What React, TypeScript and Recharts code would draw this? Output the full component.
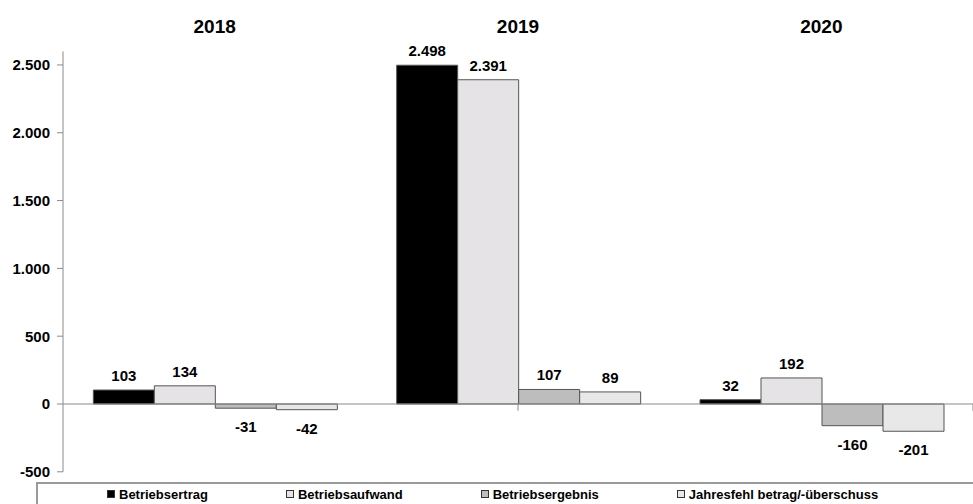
import React from 'react';
import { BarChart, Bar, XAxis, YAxis, ReferenceLine, LabelList } from 'recharts';

const categories = ['2018', '2019', '2020'];
const betriebsertrag = [103, 2498, 32];
const betriebsaufwand = [134, 2391, 192];
const betriebsergebnis = [-31, 107, -160];
const jahresergebnis = [-42, 89, -201];
const yTicks = [-500, 0, 500, 1000, 1500, 2000, 2500];
const categoryBoundaries = [1, 2, 3];

const seriesNames = ['Betriebsertrag', 'Betriebsaufwand', 'Betriebsergebnis', 'Jahresfehl betrag/-überschuss'];
const seriesColors = ['#000000', '#e6e3e6', '#bdbdbd', '#e8e8e8'];
const seriesKeys = ['ertrag', 'aufwand', 'ergebnis', 'jahres'];

const data = categories.map((year, i) => ({
  year,
  ertrag: betriebsertrag[i],
  aufwand: betriebsaufwand[i],
  ergebnis: betriebsergebnis[i],
  jahres: jahresergebnis[i],
}));

const FONT = "'Liberation Sans', Arial, sans-serif";

const fmt = (v: number) => {
  const s = String(Math.abs(v)).replace(/\B(?=(\d{3})+(?!\d))/g, '.');
  return (v < 0 ? '-' : '') + s;
};

const renderLabel = (props: any) => {
  const { x, y, width, height, value } = props;
  const v = Number(value);
  const top = Math.min(y, y + height);
  const bottom = Math.max(y, y + height);
  const cx = x + width / 2;
  const ty = v >= 0 ? top - 9 : bottom + 24;
  return (
    <text x={cx} y={ty} textAnchor="middle" fontSize={15} fontWeight="bold" fontFamily={FONT} fill="#000">
      {fmt(v)}
    </text>
  );
};

const TitleTick = (props: any) => {
  const { x, y, payload } = props;
  return (
    <text x={x} y={y} textAnchor="middle" fontSize={19} fontWeight="bold" fontFamily={FONT} fill="#000">
      {payload.value}
    </text>
  );
};

export default function App() {
  return (
    <div style={{ position: 'absolute', left: 0, top: 0, width: 973, height: 504, background: '#fff', overflow: 'hidden' }}>
      <BarChart
        width={973}
        height={504}
        data={data}
        margin={{ top: 21.4, right: 0, bottom: 32.2, left: 0 }}
        barCategoryGap="10%"
        barGap={0}
      >
        <XAxis
          xAxisId="top"
          orientation="top"
          dataKey="year"
          height={30}
          axisLine={false}
          tickLine={false}
          tickSize={0}
          tickMargin={18}
          tick={<TitleTick />}
        />
        <XAxis xAxisId="n" type="number" domain={[0, 3]} hide />
        <YAxis
          width={63}
          domain={[-500, 2600]}
          ticks={yTicks}
          interval={0}
          allowDataOverflow
          tickFormatter={fmt}
          axisLine={{ stroke: '#8a8a8a' }}
          tickLine={{ stroke: '#8a8a8a' }}
          tickSize={6}
          tickMargin={7}
          tick={{ fontSize: 15, fontWeight: 'bold', fontFamily: FONT, fill: '#000' }}
        />
        <ReferenceLine xAxisId="top" y={0} stroke="#8a8a8a" />
        {categoryBoundaries.map((b) => (
          <ReferenceLine
            key={b}
            xAxisId="n"
            segment={[{ x: b, y: 0 }, { x: b, y: -50 }]}
            stroke="#8a8a8a"
            ifOverflow="visible"
          />
        ))}
        {seriesKeys.map((k, i) => (
          <Bar
            key={k}
            xAxisId="top"
            dataKey={k}
            name={seriesNames[i]}
            fill={seriesColors[i]}
            stroke="#555"
            strokeWidth={1}
            isAnimationActive={false}
          >
            <LabelList dataKey={k} content={renderLabel} />
          </Bar>
        ))}
      </BarChart>
      <div
        style={{
          position: 'absolute',
          left: 36,
          top: 482,
          width: 937,
          height: 22,
          boxSizing: 'border-box',
          borderTop: '2px solid #9a9a9a',
          borderLeft: '2px solid #9a9a9a',
          display: 'flex',
          alignItems: 'center',
          paddingLeft: 69,
          gap: 78,
          fontFamily: FONT,
          fontWeight: 'bold',
          fontSize: 13,
          color: '#000',
          whiteSpace: 'nowrap',
        }}
      >
        {seriesNames.map((n, i) => (
          <div key={n} style={{ display: 'flex', alignItems: 'center' }}>
            <span
              style={{
                display: 'inline-block',
                width: 6,
                height: 6,
                background: seriesColors[i],
                border: '1px solid #333',
                marginRight: 4,
              }}
            />
            <span>{n}</span>
          </div>
        ))}
      </div>
    </div>
  );
}
